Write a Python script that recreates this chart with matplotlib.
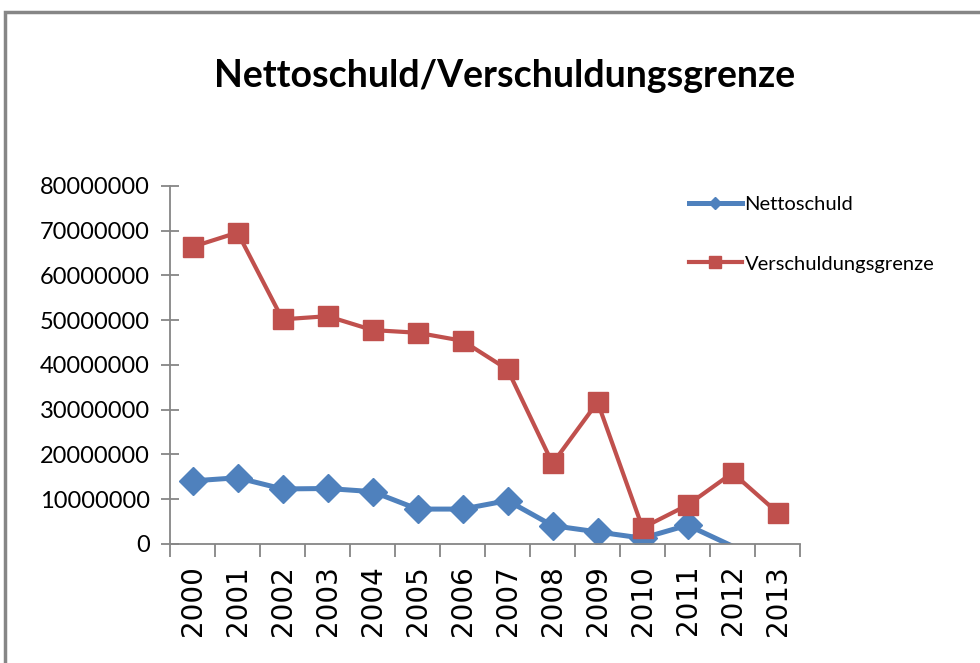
import matplotlib.pyplot as plt
import numpy as np
from matplotlib.lines import Line2D
from matplotlib.patches import Rectangle

jahre = ['2000', '2001', '2002', '2003', '2004', '2005', '2006',
         '2007', '2008', '2009', '2010', '2011', '2012', '2013']
nettoschuld = [14100000, 14800000, 12300000, 12400000, 11700000, 7800000, 7800000,
               9700000, 4100000, 2700000, 1300000, 4200000, -500000, np.nan]
verschuldungsgrenze = [66400000, 69600000, 50200000, 50900000, 47800000, 47200000, 45400000,
                       39000000, 18000000, 31700000, 3600000, 8700000, 15900000, 7000000]

blau = '#4F81BD'
rot = '#C0504D'
grau = '#868686'
schmal = ['Lato', 'DejaVu Sans']

fig = plt.figure(figsize=(9.8, 6.63), dpi=100)
ax = fig.add_axes([0.1735, 0.1795, 0.6429, 0.540])

x = np.arange(len(jahre))
netto = np.array(nettoschuld, dtype=float)
# Marker nur für sichtbare (nicht negative) Werte
sichtbar = [i for i, v in enumerate(netto) if v >= 0]
ax.plot(x, netto, color=blau, lw=3.6, marker='D', ms=14, markevery=sichtbar,
        solid_joinstyle='round', zorder=2)
ax.plot(x, verschuldungsgrenze, color=rot, lw=3.0, marker='s', ms=14.5,
        solid_joinstyle='round', zorder=3)

ax.set_xlim(-0.5, len(jahre) - 0.5)
ax.set_ylim(0, 80000000)
ax.set_yticks(np.arange(0, 80000001, 10000000))
ax.set_yticklabels([str(v) for v in range(0, 80000001, 10000000)], family=schmal, fontsize=17)

ax.set_xticks(x)
ax.set_xticklabels(jahre, rotation=90, family='DejaVu Sans', fontsize=20)
ax.set_xticks(np.arange(-0.5, len(jahre)), minor=True)
ax.tick_params(axis='x', which='major', length=0, pad=15)
ax.tick_params(axis='x', which='minor', length=9.5, width=1.3, color=grau, direction='out')
ax.tick_params(axis='y', length=13, width=1.3, color=grau, direction='inout', pad=8)

for s in ['top', 'right']:
    ax.spines[s].set_visible(False)
for s in ['left', 'bottom']:
    ax.spines[s].set_color(grau)
    ax.spines[s].set_linewidth(1.3)

fig.text(0.515, 0.886, 'Nettoschuld/Verschuldungsgrenze', ha='center', va='center',
         family=schmal, fontweight='bold', fontsize=27)

griffe = [Line2D([], [], color=blau, lw=3.6, marker='D', ms=6),
          Line2D([], [], color=rot, lw=3.0, marker='s', ms=9)]
fig.legend(griffe, ['Nettoschuld', 'Verschuldungsgrenze'], loc='upper left',
           bbox_to_anchor=(0.693, 0.7195), frameon=False, prop={'family': schmal, 'size': 14.5},
           handlelength=2.6, handletextpad=0.15, labelspacing=2.1, borderpad=0)

fig.add_artist(Rectangle((5 / 980, -0.1), 1.2, (663 - 12) / 663 + 0.1, transform=fig.transFigure,
                         fill=False, edgecolor=grau, lw=2.5))

fig.savefig('out.png', dpi=100)
